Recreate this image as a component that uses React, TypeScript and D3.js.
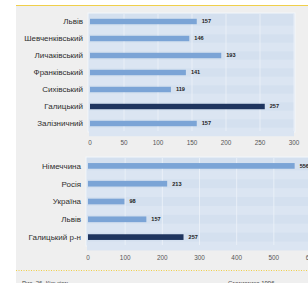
import * as d3 from 'd3';
import React from 'react';

// top panel: districts of Lviv
const districts = ['Львів', 'Шевченківський', 'Личаківський', 'Франківський', 'Сихівський', 'Галицький', 'Залізничний'];
const districtValues = [157, 146, 193, 141, 119, 257, 157];
const topTicks = [0, 50, 100, 150, 200, 250, 300];

// bottom panel: comparison
const places = ['Німеччина', 'Росія', 'Україна', 'Львів', 'Галицький р-н'];
const placeValues = [556, 213, 98, 157, 257];
const bottomTicks = [0, 100, 200, 300, 400, 500, 600];

const highlight = ['Галицький', 'Галицький р-н'];

const W = 308;
const H = 283;
const font = 'Liberation Sans, Arial, sans-serif';

function Panel(props: {
    names: string[]; values: number[]; ticks: number[];
    x0: number; x1: number; y0: number; y1: number; bgRight: number; tickY: number;
}) {
    const { names, values, ticks, x0, x1, y0, y1, bgRight, tickY } = props;
    const x = d3.scaleLinear().domain([0, ticks[ticks.length - 1]]).range([x0, x1]);
    const y = d3.scaleBand().domain(names).range([y0, y1]).paddingInner(0.68).paddingOuter(0.34);
    const step = y.step();
    return (
        <g>
            <rect x={x0 - 2} y={y0} width={bgRight - x0 + 2} height={y1 - y0} fill="#d4e0ef" stroke="#f4f7fb" strokeWidth={1} />
            {names.map((n, i) => (
                <rect key={'s' + i} x={x0 - 1} y={(y(n) as number) + y.bandwidth() / 2 + step / 4}
                      width={bgRight - x0} height={step / 2} fill="#dbe5f2" />
            ))}
            {ticks.slice(1).map(t => (
                <line key={'g' + t} x1={x(t)} x2={x(t)} y1={y0 + 1} y2={y1 - 1} stroke="#eef3f9" strokeWidth={0.8} />
            ))}
            {names.map((n, i) => {
                const hl = highlight.includes(n);
                const yy = y(n) as number;
                return (
                    <g key={n}>
                        <rect x={x(0)} y={yy} width={x(values[i]) - x(0)} height={y.bandwidth()}
                              fill={hl ? '#1f355f' : '#7ba4d6'} />
                        <text x={x0 - 7} y={yy + y.bandwidth() / 2} dy="0.35em" textAnchor="end"
                              fontSize={8} fill="#2e2e2e" fontFamily={font}>{n}</text>
                        <text x={x(values[i]) + 5} y={yy + y.bandwidth() / 2} dy="0.35em"
                              fontSize={5.6} fontWeight="bold" fill="#222" fontFamily={font}>{values[i]}</text>
                    </g>
                );
            })}
            {ticks.map(t => (
                <text key={'t' + t} x={x(t)} y={tickY} textAnchor="middle" fontSize={6.4}
                      fill="#555" fontFamily={font}>{t}</text>
            ))}
        </g>
    );
}

export default function App() {
    return (
        <svg width={W} height={H} style={{ position: 'absolute', left: 0, top: 0 }}>
            <rect x={0} y={0} width={W} height={H} fill="#ffffff" />
            <rect x={16} y={5} width={W - 16} height={H - 5} fill="#efefef" />
            <line x1={16} x2={W} y1={5.5} y2={5.5} stroke="#f0cf4a" strokeWidth={1} />
            <Panel names={districts} values={districtValues} ticks={topTicks}
                   x0={90} x1={294} y0={13} y1={132} bgRight={295} tickY={145} />
            <Panel names={places} values={placeValues} ticks={bottomTicks}
                   x0={88} x1={311} y0={157} y1={246} bgRight={310} tickY={260} />
            <line x1={16} x2={W} y1={270.5} y2={270.5} stroke="#f0cf4a" strokeWidth={1} strokeDasharray="1,1.5" />
            <text x={22} y={285} fontSize={6} fill="#444" fontFamily={font}>Рис. 26. Кількість</text>
            <text x={228} y={285} fontSize={6} fill="#444" fontFamily={font}>Статистика 1996</text>
        </svg>
    );
}
